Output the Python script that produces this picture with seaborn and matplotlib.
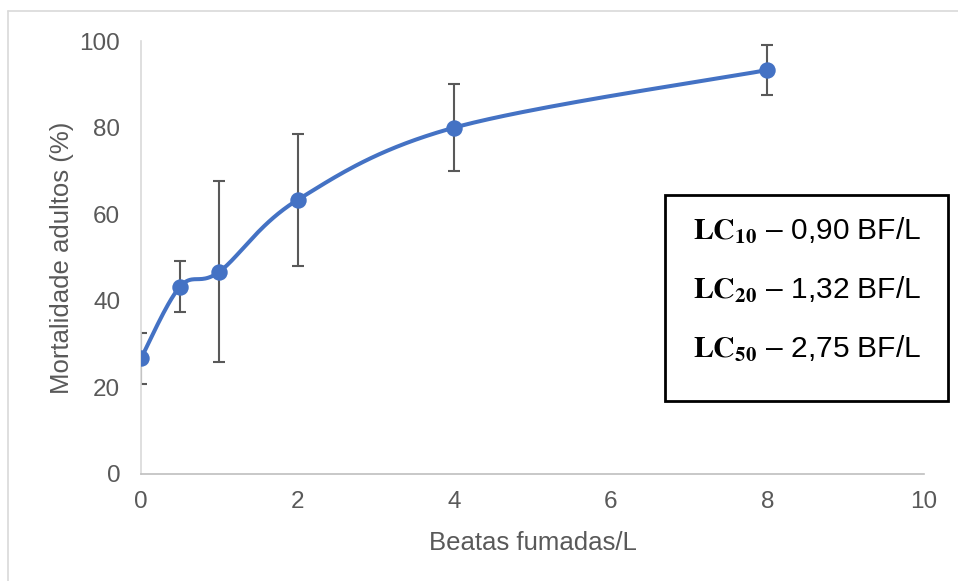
import numpy as np
import pandas as pd
import matplotlib
matplotlib.use("Agg")
import matplotlib.pyplot as plt
import seaborn as sns
from matplotlib.lines import Line2D
from matplotlib.patches import Rectangle

# Data
doses = [0, 0.5, 1, 2, 4, 8]
mortality = [26.7, 43.3, 46.7, 63.3, 80.0, 93.3]
errors = [5.8, 5.8, 20.9, 15.3, 10.0, 5.8]
x_ticks = [0, 2, 4, 6, 8, 10]
y_ticks = [0, 20, 40, 60, 80, 100]
lc_labels = ["10", "20", "50"]
lc_values = ["0,90", "1,32", "2,75"]

sns.set_theme(style="white")
plt.rcParams["font.family"] = ["Liberation Sans", "DejaVu Sans"]
plt.rcParams["mathtext.fontset"] = "stix"

W, H = 958, 581
fig = plt.figure(figsize=(W / 100, H / 100), dpi=100)
ax = fig.add_axes([141 / W, 1 - 474 / H, (924 - 141) / W, (474 - 41) / H])

ax.set_xlim(0, 10)
ax.set_ylim(0, 100)

# Smoothed line (Excel-like Catmull-Rom Bezier), computed in pixel-scaled units
sx = (924 - 141) / 10.0
sy = (474 - 41) / 100.0
P = np.column_stack([np.array(doses) * sx, np.array(mortality) * sy])
n = len(P)
curve = []
t = np.linspace(0, 1, 40)
for i in range(n - 1):
    p0 = P[i - 1] if i > 0 else P[i]
    p1 = P[i]
    p2 = P[i + 1]
    p3 = P[i + 2] if i + 2 < n else P[i + 1]
    b1 = p1 + (p2 - p0) / 6.0
    b2 = p2 - (p3 - p1) / 6.0
    seg = ((1 - t) ** 3)[:, None] * p1 + (3 * (1 - t) ** 2 * t)[:, None] * b1 \
        + (3 * (1 - t) * t ** 2)[:, None] * b2 + (t ** 3)[:, None] * p2
    curve.append(seg if i == 0 else seg[1:])
curve = np.vstack(curve)
curve_df = pd.DataFrame({"x": curve[:, 0] / sx, "y": curve[:, 1] / sy})

blue = "#4472C4"
ax.errorbar(doses, mortality, yerr=errors, fmt="none", ecolor="#595959",
            elinewidth=1.5, capsize=4.5, capthick=1.5, zorder=2)
sns.lineplot(data=curve_df, x="x", y="y", sort=False, ax=ax, color=blue,
             linewidth=2.9, zorder=3)
sns.scatterplot(x=doses, y=mortality, ax=ax, color=blue, s=140,
                edgecolor=blue, linewidth=0, zorder=4)

ax.set_xticks(x_ticks)
ax.set_yticks(y_ticks)
ax.set_xticklabels([str(v) for v in x_ticks])
ax.set_yticklabels([str(v) for v in y_ticks])
ax.tick_params(axis="both", length=0, labelsize=17.5, colors="#595959")
ax.tick_params(axis="x", pad=12)
ax.tick_params(axis="y", pad=15)

for s in ["top", "right"]:
    ax.spines[s].set_visible(False)
ax.spines["left"].set_color("#D9D9D9")
ax.spines["bottom"].set_color("#BFBFBF")
ax.spines["left"].set_linewidth(1.2)
ax.spines["bottom"].set_linewidth(1.2)

ax.set_xlabel("Beatas fumadas/L", fontsize=18.5, color="#595959", labelpad=13)
ax.set_ylabel("Mortalidade adultos (%)", fontsize=18.5, color="#595959", labelpad=4)

# Outer chart border
fig.add_artist(Line2D([8 / W, 1], [1 - 11 / H, 1 - 11 / H], color="#D9D9D9", lw=1.2,
                      transform=fig.transFigure))
fig.add_artist(Line2D([8 / W, 8 / W], [0, 1 - 11 / H], color="#D9D9D9", lw=1.2,
                      transform=fig.transFigure))

# LC box
fig.add_artist(Rectangle((665 / W, 1 - 401 / H), (948 - 665) / W, (401 - 195) / H,
                         transform=fig.transFigure, fill=True, facecolor="white",
                         edgecolor="black", lw=2, zorder=5))
ys = [231, 290, 349]
for yy, lab, val in zip(ys, lc_labels, lc_values):
    fig.text(693 / W, 1 - yy / H, r"$\mathbf{LC_{%s}}$" % lab + " \u2013 " + val + " BF/L",
             fontsize=21.5, color="black", va="center", ha="left", zorder=6)

fig.savefig("out.png", dpi=100)
